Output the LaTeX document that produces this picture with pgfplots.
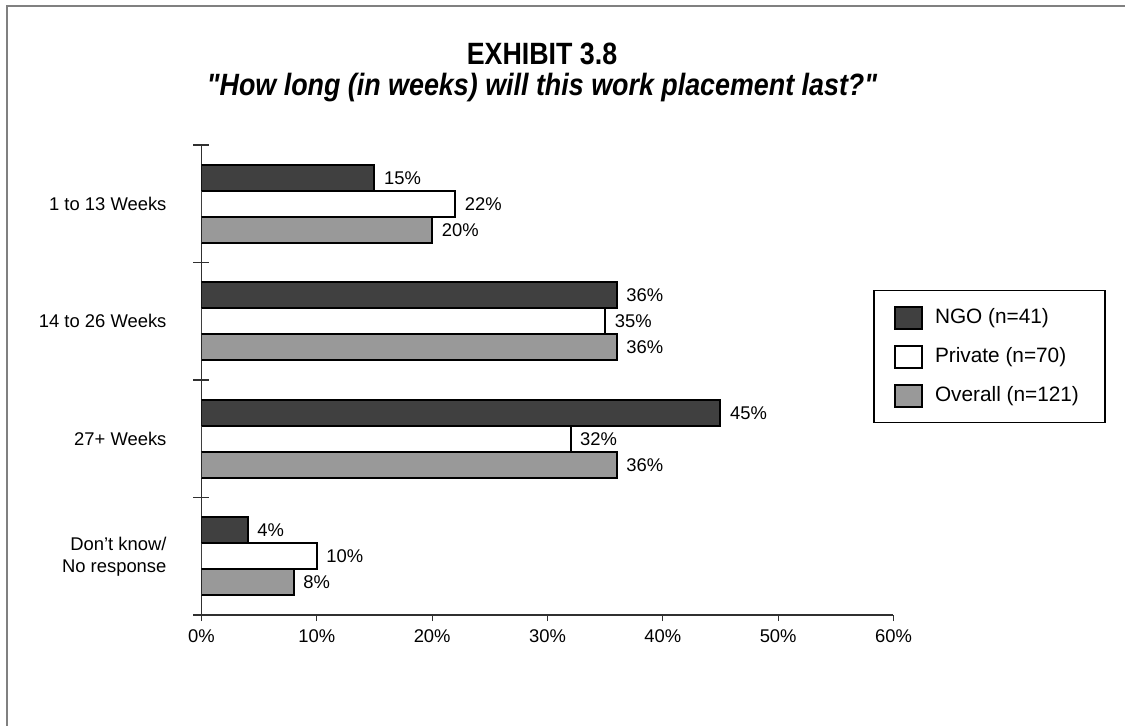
\documentclass[border=0pt]{standalone}
\usepackage{fontspec}
\setmainfont[Ligatures=TeXOff]{Liberation Sans}
\usepackage{pgfplots}
\pgfplotsset{compat=1.18}
\definecolor{ngo}{HTML}{404040}
\definecolor{overall}{HTML}{999999}
\definecolor{axgray}{HTML}{303030}

\begin{document}
\begin{tikzpicture}[x=1pt,y=1pt,font=\fontsize{9.2}{11}\selectfont]
	\useasboundingbox (0,0) rectangle (562.5,362.5);
	% frame (only left and top visible)
	\draw[gray,line width=1pt] (3.5,-2) -- (3.5,359.5) -- (566,359.5);
	\node[font=\fontsize{15.4}{17}\selectfont\bfseries, anchor=base, xscale=0.87, transform shape] at (271,330.5) {EXHIBIT 3.8};
	\node[font=\fontsize{15.4}{17}\selectfont\bfseries\itshape, anchor=base, xscale=0.872, transform shape] at (271,315) {"How long (in weeks) will this work placement last?"};
	\begin{axis}[
	at={(100.75pt,55pt)}, anchor=south west,
	scale only axis,
	width=346pt, height=235pt,
	xbar,
	bar width=13pt,
	xmin=0, xmax=60,
	ymin=-0.5, ymax=3.5,
	axis x line=bottom,
	axis y line=left,
	axis line style={-,axgray,line width=0.6pt},
	tick align=center,
	major tick length=8pt,
	tick style={axgray,line width=0.6pt},
	% x ticks: short, pointing down
	xtick=\empty,
	extra x ticks={0,10,20,30,40,50,60},
	extra x tick labels={0\%,10\%,20\%,30\%,40\%,50\%,60\%},
	extra x tick style={tick align=outside, major tick length=3pt},
	xticklabel style={yshift=-1pt},
	% y ticks: crossing, at the category boundaries
	ytick={-0.5,0.5,1.5,2.5,3.5},
	yticklabels={},
	extra y ticks={0,1,2,3},
	extra y tick labels={{Don’t know/\\No response},{27+ Weeks},{14 to 26 Weeks},{1 to 13 Weeks}},
	extra y tick style={major tick length=0pt, yticklabel style={align=right, xshift=-14pt}},
	nodes near coords={\pgfmathprintnumber[assume math mode=true]{\pgfplotspointmeta}\%},
	nodes near coords style={anchor=west, xshift=1pt},
	point meta=x,
	legend style={at={(0.971,0.6916)}, anchor=north west, draw=black, line width=0.6pt,
		inner xsep=0pt, inner ysep=7pt, row sep=6.5pt,
		nodes={inner xsep=0pt},
		font=\fontsize{10.4}{12}\selectfont},
	legend cell align=left,
	legend image code/.code={\draw[#1,line width=1pt] (0pt,-5.5pt) rectangle (13.5pt,5.5pt); \path (-10pt,0) (19.5pt,0);},
	]
	\addplot[fill=ngo, draw=black, line width=1pt, bar shift=13pt] coordinates {
		(15,3) (36,2) (45,1) (4,0)
	};
	\addplot[fill=white, draw=black, line width=1pt, bar shift=0pt] coordinates {
		(22,3) (35,2) (32,1) (10,0)
	};
	\addplot[fill=overall, draw=black, line width=1pt, bar shift=-13pt] coordinates {
		(20,3) (36,2) (36,1) (8,0)
	};
	\legend{NGO (n=41), Private (n=70), Overall (n=121)\hspace*{13pt}}
	\end{axis}
\end{tikzpicture}
\end{document}
